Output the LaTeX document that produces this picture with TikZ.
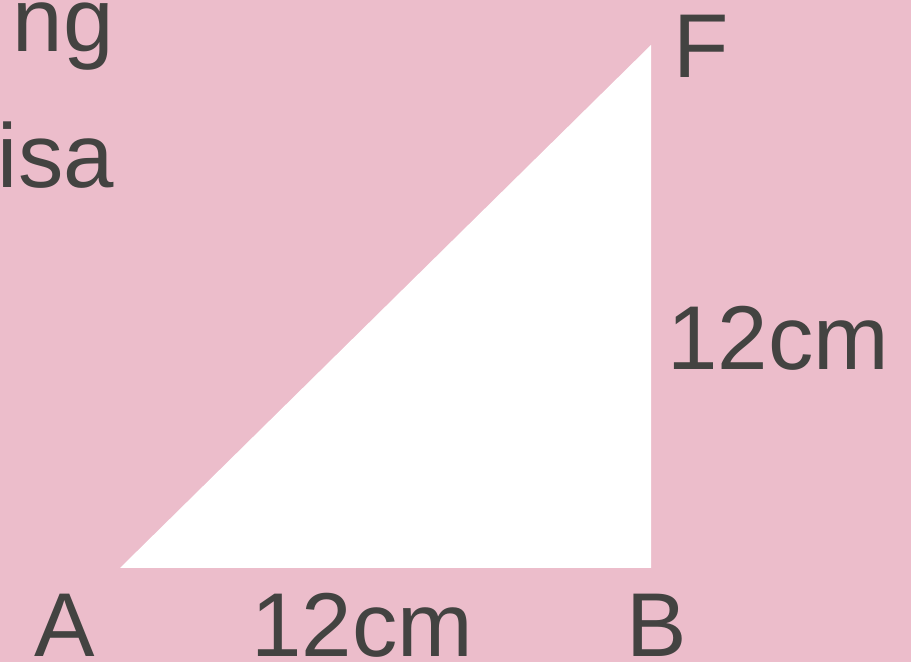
\documentclass[tikz,border=0pt]{standalone}
\usepackage{fontspec}
\setmainfont{Liberation Sans}
\definecolor{bgpink}{HTML}{ECBDCB}
\definecolor{txtgray}{HTML}{434341}
\begin{document}
\begin{tikzpicture}[x=1bp,y=1bp,
  lbl/.style={inner sep=0pt,text=txtgray,font=\fontsize{91}{100}\selectfont}]
\useasboundingbox (0,0) rectangle (911,662);
\fill[bgpink] (0,0) rectangle (911,662);
\coordinate (A) at (120,94);
\coordinate (B) at (651,94);
\coordinate (F) at (651,617);
\fill[white] (A) -- (B) -- (F) -- cycle;
\node[lbl,anchor=base east] (t1) at (114,610) {ng};
\node[lbl,anchor=base east] (t2) at (114,474) {isa};
\node[lbl,anchor=base west] (lA) at (34,5) {A};
\node[lbl,anchor=base west] (lAB) at (251,5) {12cm};
\node[lbl,anchor=base west] (lB) at (626,5) {B};
\node[lbl,anchor=base west] (lF) at (673,584) {F};
\node[lbl,anchor=base west] (lBF) at (667,292) {12cm};
\end{tikzpicture}
\end{document}
